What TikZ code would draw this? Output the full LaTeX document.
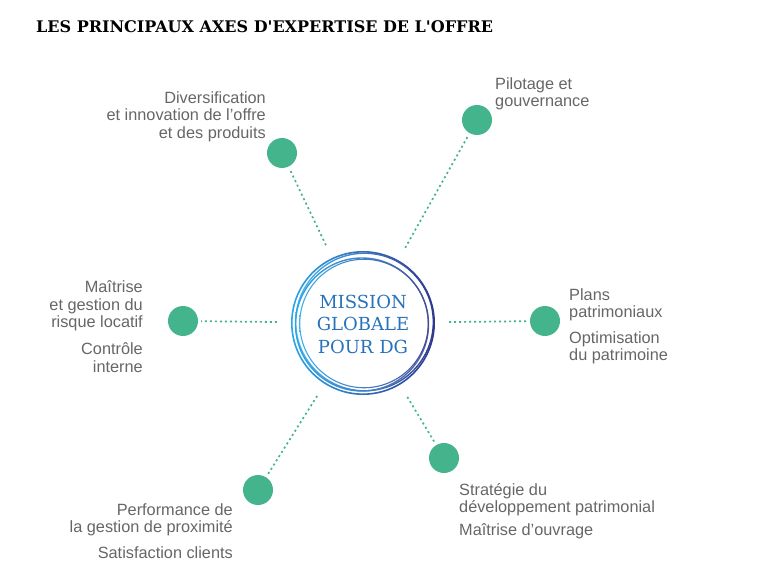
\documentclass[tikz,border=0pt]{standalone}
\usepackage{fontspec}
\setmainfont{Liberation Sans}
\newfontfamily\slabfont{DejaVu Serif}
\usepackage{tikz}
\usetikzlibrary{arrows.meta}

\definecolor{dotgreen}{HTML}{44B48C}
\definecolor{txtgray}{HTML}{666666}
\definecolor{ringlight}{HTML}{2AA6E6}
\definecolor{ringdark}{HTML}{30388E}
\definecolor{missionblue}{HTML}{2772BA}

\begin{document}
\begin{tikzpicture}[x=1pt,y=-1pt,
  axisdot/.style={circle,fill=dotgreen,draw=none,minimum size=30pt,inner sep=0pt},
  dotline/.style={dotgreen,line width=1.7pt,dash pattern=on 2pt off 3pt,shorten <=14pt,shorten >=3pt},
  axistext/.style={inner sep=0pt,text=txtgray,font=\fontsize{16.3}{17.3}\selectfont}]

\useasboundingbox (0,0) rectangle (768,585);

% titre
\node[anchor=west,inner sep=0pt,font=\slabfont\bfseries\fontsize{16}{18}\selectfont] (titre) at (36,27) {LES PRINCIPAUX AXES D'EXPERTISE DE L'OFFRE};

% cercle central
\node[circle,minimum size=144pt,inner sep=0pt] (mission) at (363,323) {};
\shade[left color=ringlight,right color=ringdark,even odd rule] (363,323) circle (72) circle (70.4);
\shade[left color=ringlight!80,right color=ringdark,even odd rule] (364.5,322) circle (69.5) circle (68.1);
\shade[left color=ringlight,right color=ringdark!80,even odd rule] (362,324.5) circle (67.2) circle (65.8);
\shade[left color=ringlight!90,right color=ringdark!90,even odd rule] (364,323.5) circle (64.8) circle (63.7);
\node[align=center,text=missionblue,inner sep=0pt,font=\slabfont\fontsize{18}{22.5}\selectfont] (missiontxt) at (363,324) {MISSION\\GLOBALE\\POUR DG};

% points verts
\node[axisdot] (diversif) at (282,153) {};
\node[axisdot] (pilotage) at (477,120) {};
\node[axisdot] (maitrise) at (183,321) {};
\node[axisdot] (plans) at (545,321) {};
\node[axisdot] (strategie) at (444,458) {};
\node[axisdot] (perf) at (258,490) {};

% liaisons
\draw[dotline] (mission) -- (diversif);
\draw[dotline] (mission) -- (pilotage);
\draw[dotline] (mission) -- (maitrise);
\draw[dotline] (mission) -- (plans);
\draw[dotline] (mission) -- (strategie);
\draw[dotline] (mission) -- (perf);

% textes
\node[axistext,anchor=east,align=right] (t1) at (266,116.5) {Diversification\\et innovation de l'offre\\et des produits};
\node[axistext,anchor=west,align=left] (t2) at (495,93.5) {Pilotage et\\gouvernance};
\node[axistext,anchor=east,align=right] (t3) at (143,306) {Maîtrise\\et gestion du\\risque locatif};
\node[axistext,anchor=east,align=right] (t3b) at (143,357.5) {Contrôle\\interne};
\node[axistext,anchor=west,align=left] (t4) at (569,305) {Plans\\patrimoniaux};
\node[axistext,anchor=west,align=left] (t4b) at (569,348) {Optimisation\\du patrimoine};
\node[axistext,anchor=west,align=left] (t5) at (459,499.5) {Stratégie du\\développement patrimonial};
\node[axistext,anchor=west,align=left] (t5b) at (459,531) {Maîtrise d'ouvrage};
\node[axistext,anchor=east,align=right] (t6) at (233,520) {Performance de\\la gestion de proximité};
\node[axistext,anchor=east,align=right] (t6b) at (233,553) {Satisfaction clients};
\end{tikzpicture}
\end{document}
